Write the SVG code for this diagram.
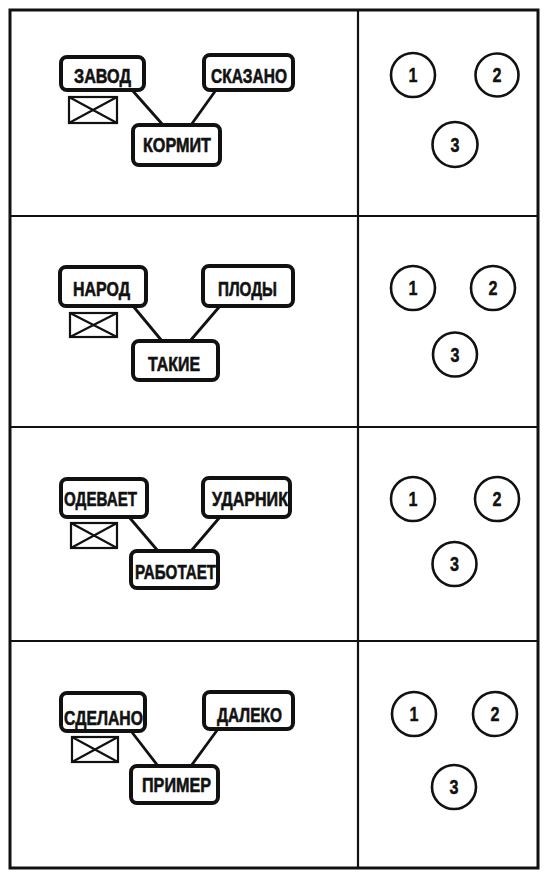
<svg xmlns="http://www.w3.org/2000/svg" width="550" height="873" viewBox="0 0 550 873">
<style>
.frame{fill:none;stroke:#111;stroke-width:3}
.div{fill:none;stroke:#111;stroke-width:2.2}
.box{fill:#fff;stroke:#111;stroke-width:4}
.lbl{font-family:"Liberation Sans",Arial,sans-serif;font-weight:bold;font-size:21px;fill:#111;stroke:#111;stroke-width:0.6}
.num{font-family:"Liberation Sans",Arial,sans-serif;font-weight:bold;font-size:20px;fill:#111;stroke:#111;stroke-width:0.4;text-anchor:middle}
.conn line{stroke:#111;stroke-width:2.8}
.circ{fill:#fff;stroke:#111;stroke-width:2.6}
.xbox{fill:#fff;stroke:#111;stroke-width:2.2}
</style>
<rect x="0" y="0" width="550" height="873" fill="#fff"/>
<g id="frame">
<rect class="frame" x="10" y="10" width="528" height="858"/>
<line class="div" x1="358" y1="10" x2="358" y2="868"/>
<line class="div" x1="10" y1="216" x2="538" y2="216"/>
<line class="div" x1="10" y1="427" x2="538" y2="427"/>
<line class="div" x1="10" y1="641" x2="538" y2="641"/>
</g>
<g id="connectors" class="conn">
<line x1="132" y1="90" x2="163" y2="125"/>
<line x1="216" y1="90" x2="191" y2="125"/>
<line x1="133" y1="306" x2="162" y2="341"/>
<line x1="220" y1="306" x2="190" y2="341"/>
<line x1="129" y1="517" x2="158" y2="551"/>
<line x1="220" y1="517" x2="191" y2="551"/>
<line x1="131" y1="731" x2="158" y2="766"/>
<line x1="218" y1="729" x2="191" y2="766"/>
</g>
<!-- Panel 1 -->
<g id="n-zavod"><rect class="box" x="61" y="57" width="83" height="33" rx="6"/><text class="lbl" x="74" y="83" textLength="57" lengthAdjust="spacingAndGlyphs">ЗАВОД</text></g>
<g id="n-skazano"><rect class="box" x="204" y="55" width="89" height="35" rx="6"/><text class="lbl" x="211" y="83" textLength="76" lengthAdjust="spacingAndGlyphs">СКАЗАНО</text></g>
<g id="n-kormit"><rect class="box" x="133" y="125" width="87" height="40" rx="6"/><text class="lbl" x="143" y="152" textLength="68" lengthAdjust="spacingAndGlyphs">КОРМИТ</text></g>
<g id="x1"><rect class="xbox" x="69" y="97" width="48" height="26"/><path class="xbox" d="M69 97L117 123M117 97L69 123"/></g>
<g id="c1-1"><circle class="circ" cx="413" cy="75" r="22"/><text class="num" x="413" y="82" textLength="9" lengthAdjust="spacingAndGlyphs">1</text></g>
<g id="c1-2"><circle class="circ" cx="497" cy="75" r="21.5"/><text class="num" x="497" y="82" textLength="9" lengthAdjust="spacingAndGlyphs">2</text></g>
<g id="c1-3"><circle class="circ" cx="455" cy="144.5" r="22.5"/><text class="num" x="455" y="151.5" textLength="9" lengthAdjust="spacingAndGlyphs">3</text></g>
<!-- Panel 2 -->
<g id="n-narod"><rect class="box" x="60" y="267" width="86" height="39" rx="6"/><text class="lbl" x="73" y="296" textLength="57" lengthAdjust="spacingAndGlyphs">НАРОД</text></g>
<g id="n-plody"><rect class="box" x="203" y="266" width="90" height="40" rx="6"/><text class="lbl" x="218" y="296" textLength="59" lengthAdjust="spacingAndGlyphs">ПЛОДЫ</text></g>
<g id="n-takie"><rect class="box" x="133" y="341" width="85" height="39" rx="6"/><text class="lbl" x="148" y="371" textLength="52" lengthAdjust="spacingAndGlyphs">ТАКИЕ</text></g>
<g id="x2"><rect class="xbox" x="70" y="313" width="47" height="24"/><path class="xbox" d="M70 313L117 337M117 313L70 337"/></g>
<g id="c2-1"><circle class="circ" cx="413" cy="288" r="22"/><text class="num" x="413" y="295" textLength="9" lengthAdjust="spacingAndGlyphs">1</text></g>
<g id="c2-2"><circle class="circ" cx="493" cy="288" r="22"/><text class="num" x="493" y="295" textLength="9" lengthAdjust="spacingAndGlyphs">2</text></g>
<g id="c2-3"><circle class="circ" cx="455" cy="354.5" r="22"/><text class="num" x="455" y="361.5" textLength="9" lengthAdjust="spacingAndGlyphs">3</text></g>
<!-- Panel 3 -->
<g id="n-odevaet"><rect class="box" x="61" y="479" width="86" height="38" rx="6"/><text class="lbl" x="64" y="506" textLength="73" lengthAdjust="spacingAndGlyphs">ОДЕВАЕТ</text></g>
<g id="n-udarnik"><rect class="box" x="203" y="478" width="87" height="39" rx="6"/><text class="lbl" x="212" y="506" textLength="76" lengthAdjust="spacingAndGlyphs">УДАРНИК</text></g>
<g id="n-rabotaet"><rect class="box" x="131" y="551" width="87" height="37" rx="6"/><text class="lbl" x="135" y="579" textLength="81" lengthAdjust="spacingAndGlyphs">РАБОТАЕТ</text></g>
<g id="x3"><rect class="xbox" x="71" y="523" width="46" height="25"/><path class="xbox" d="M71 523L117 548M117 523L71 548"/></g>
<g id="c3-1"><circle class="circ" cx="413" cy="499" r="22"/><text class="num" x="413" y="506" textLength="9" lengthAdjust="spacingAndGlyphs">1</text></g>
<g id="c3-2"><circle class="circ" cx="497" cy="499" r="22"/><text class="num" x="497" y="506" textLength="9" lengthAdjust="spacingAndGlyphs">2</text></g>
<g id="c3-3"><circle class="circ" cx="454.5" cy="564" r="22"/><text class="num" x="454.5" y="571" textLength="9" lengthAdjust="spacingAndGlyphs">3</text></g>
<!-- Panel 4 -->
<g id="n-sdelano"><rect class="box" x="61" y="693" width="84" height="38" rx="6"/><text class="lbl" x="64" y="725" textLength="79" lengthAdjust="spacingAndGlyphs">СДЕЛАНО</text></g>
<g id="n-daleko"><rect class="box" x="204" y="692" width="89" height="37" rx="6"/><text class="lbl" x="217" y="722" textLength="65" lengthAdjust="spacingAndGlyphs">ДАЛЕКО</text></g>
<g id="n-primer"><rect class="box" x="131" y="766" width="87" height="37" rx="6"/><text class="lbl" x="142" y="792" textLength="69" lengthAdjust="spacingAndGlyphs">ПРИМЕР</text></g>
<g id="x4"><rect class="xbox" x="72" y="737" width="46" height="25"/><path class="xbox" d="M72 737L118 762M118 737L72 762"/></g>
<g id="c4-1"><circle class="circ" cx="414" cy="714" r="22"/><text class="num" x="414" y="721" textLength="9" lengthAdjust="spacingAndGlyphs">1</text></g>
<g id="c4-2"><circle class="circ" cx="495" cy="714" r="22"/><text class="num" x="495" y="721" textLength="9" lengthAdjust="spacingAndGlyphs">2</text></g>
<g id="c4-3"><circle class="circ" cx="454" cy="787" r="22"/><text class="num" x="454" y="794" textLength="9" lengthAdjust="spacingAndGlyphs">3</text></g>
</svg>
